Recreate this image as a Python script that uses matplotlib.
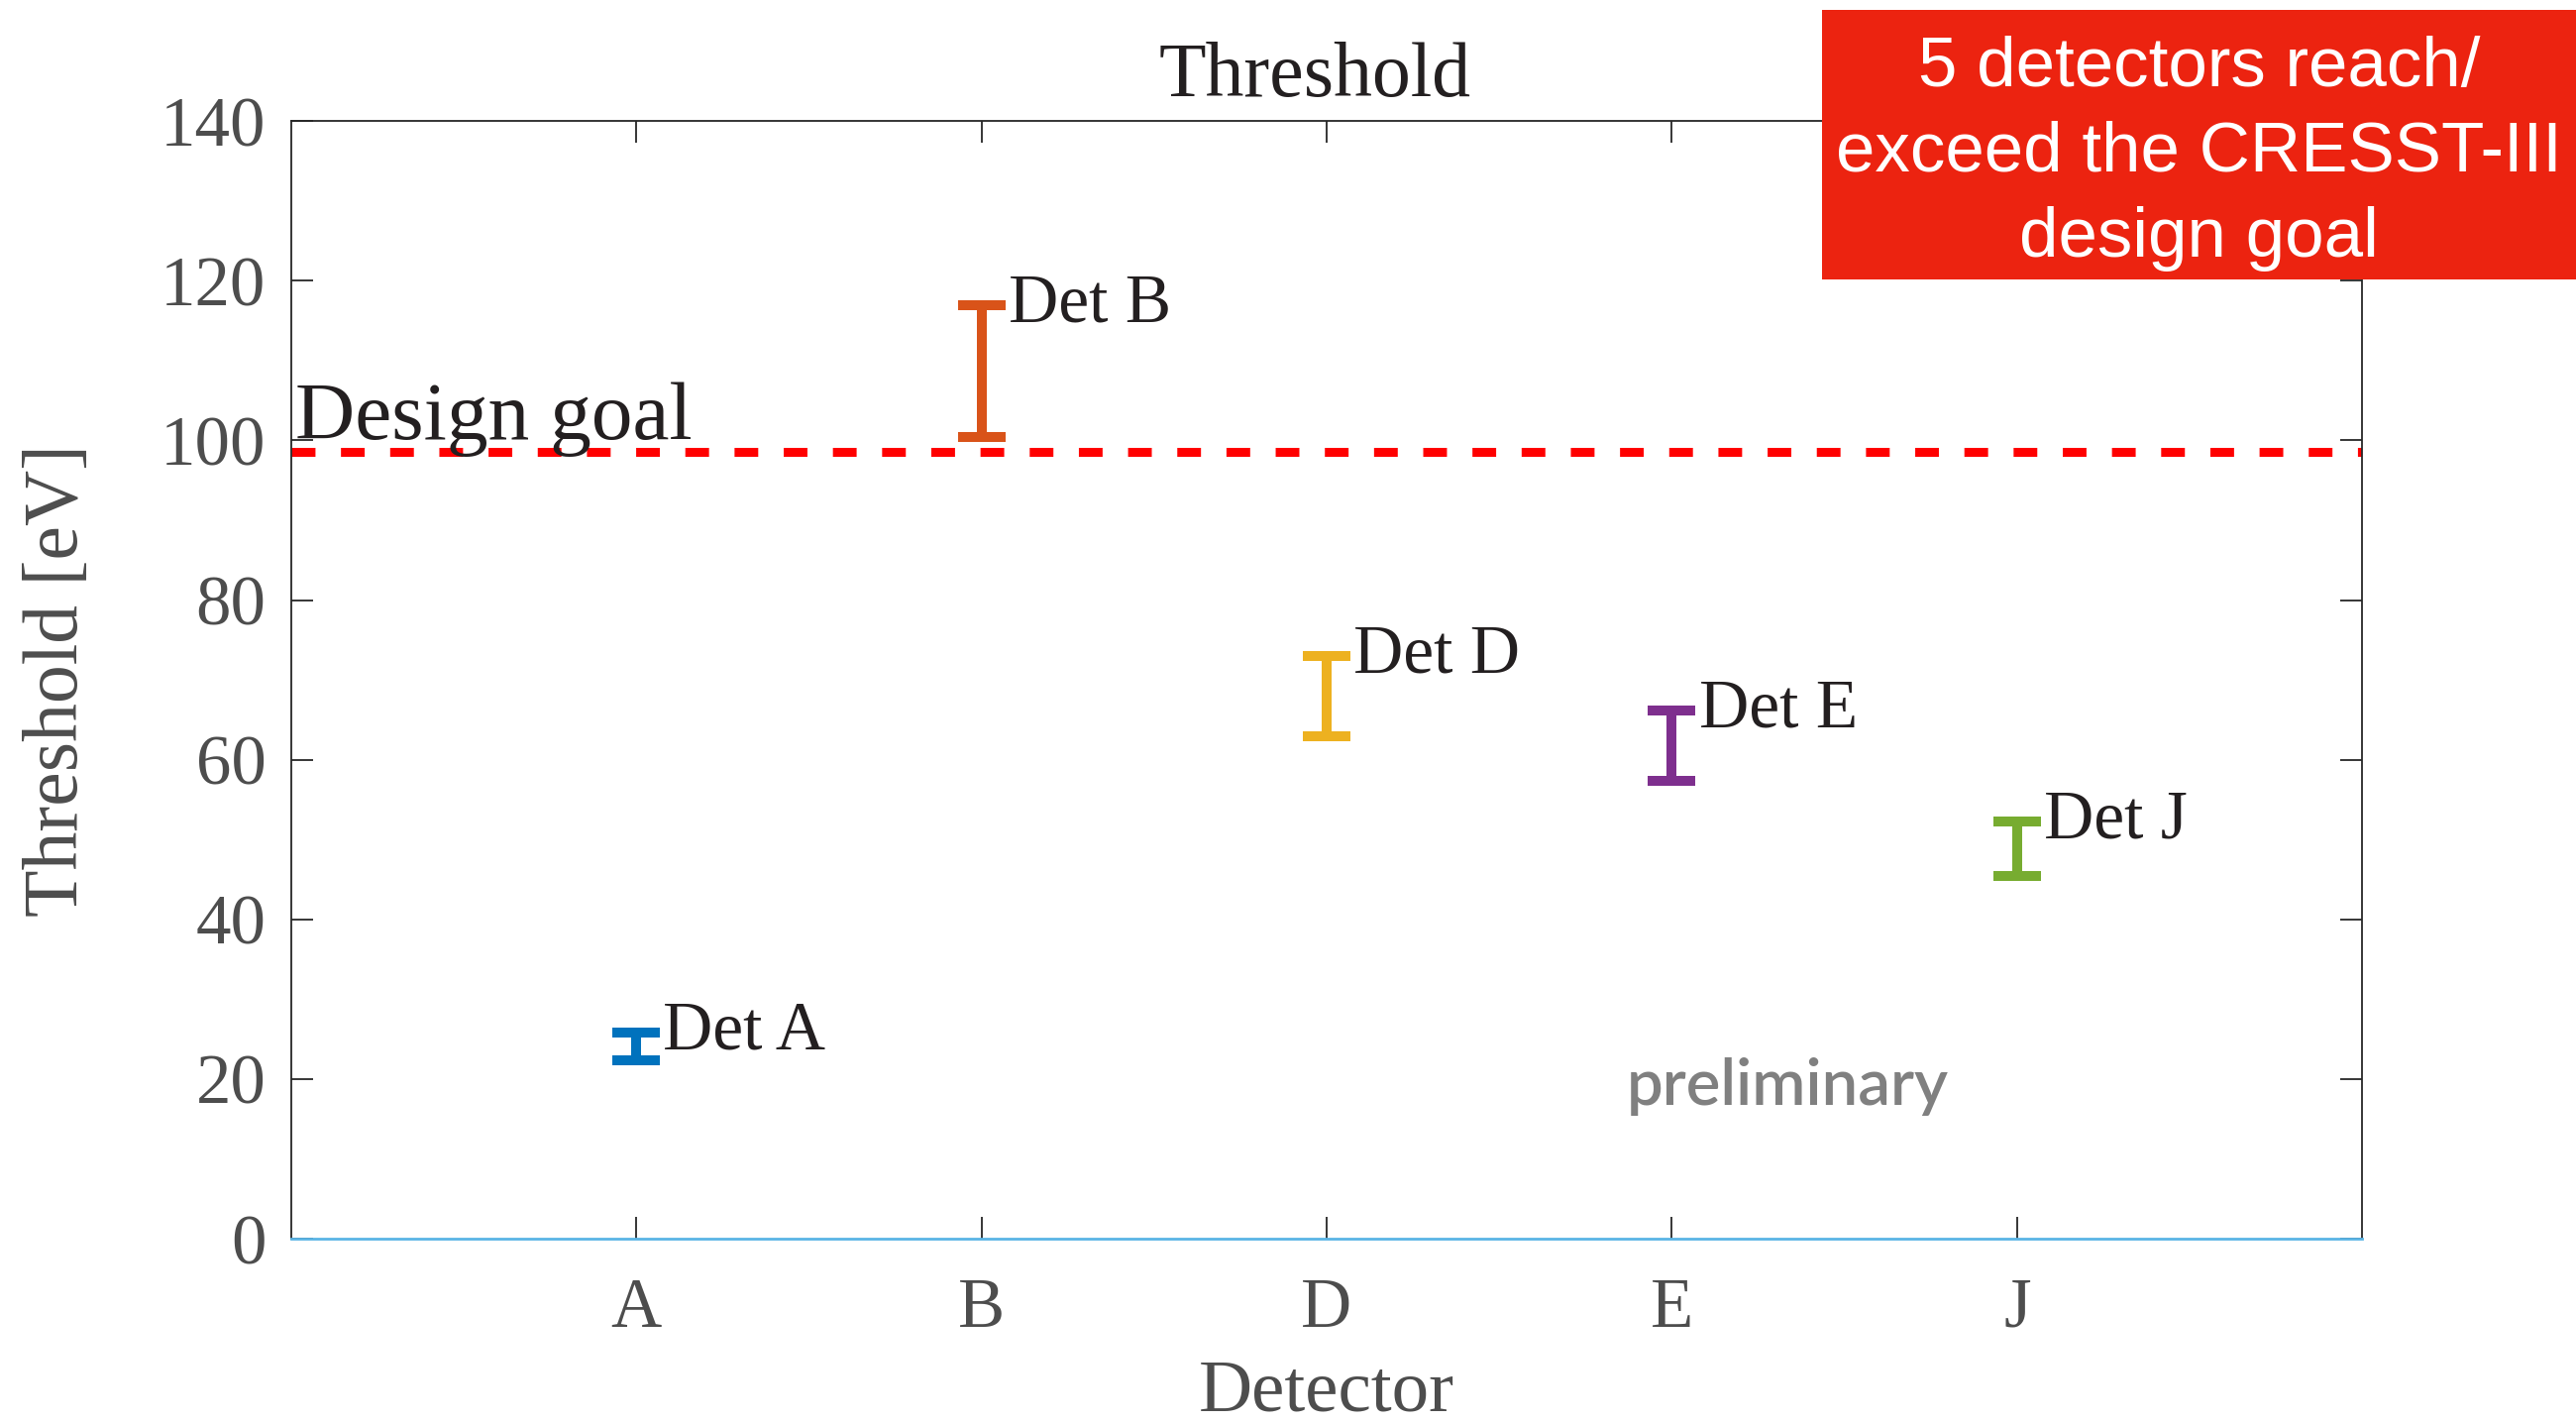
import matplotlib
matplotlib.use("Agg")
import matplotlib.pyplot as plt
from matplotlib.patches import Rectangle

# ---------------- data -----------------
detectors = ["A", "B", "D", "E", "J"]
thr_low = [22.3, 100.4, 62.9, 57.3, 45.4]     # eV, lower end of bar
thr_high = [25.8, 116.9, 73.0, 66.2, 52.3]    # eV, upper end of bar
bar_colors = ["#0072BD", "#D95319", "#EDB120", "#7E2F8E", "#77AC30"]
design_goal = 98.5
y_ticks = [0, 20, 40, 60, 80, 100, 120, 140]

SERIF = ["Liberation Serif", "DejaVu Serif"]
GRAY = "#4d4d4d"

fig = plt.figure(figsize=(26, 14.35), dpi=100)
ax = fig.add_axes([0.1129, 0.1289, 0.8042, 0.786])

x = list(range(1, len(detectors) + 1))
for xi, lo, hi, c, name in zip(x, thr_low, thr_high, bar_colors, detectors):
    mid = (lo + hi) / 2
    err = (hi - lo) / 2
    ax.errorbar([xi], [mid], yerr=[[err], [err]], fmt="none", ecolor=c,
                elinewidth=7.2, capsize=17, capthick=7.2, zorder=3)
    ax.text(xi + 0.078, hi, "Det " + name, family=SERIF, fontsize=50,
            color="#231f20", ha="left", va="center", zorder=4)

# design goal line
ax.axhline(design_goal, color="#ff0000", lw=6.5, dashes=(2.65, 2.85), zorder=2)
ax.text(0.012, 100.2, "Design goal", family=SERIF, fontsize=60,
        color="#231f20", ha="left", va="baseline")

ax.text(3.87, 16.7, "preliminary", family=["Lato", "DejaVu Sans"], fontsize=47,
        fontweight="semibold", color="#808080", ha="left", va="baseline")

# axes styling
ax.set_xlim(0, 6)
ax.set_ylim(0, 140)
ax.set_xticks(x)
ax.set_xticklabels(detectors)
ax.set_yticks(y_ticks)
ax.tick_params(direction="in", top=True, right=True, length=16, width=1.3,
               color="#262626", labelsize=51, labelcolor=GRAY)
ax.tick_params(axis="x", pad=28)
ax.tick_params(axis="y", pad=18)
for lab in ax.get_xticklabels() + ax.get_yticklabels():
    lab.set_family(SERIF)
for side in ["left", "top", "right"]:
    ax.spines[side].set_color("#262626")
    ax.spines[side].set_linewidth(1.3)
ax.spines["bottom"].set_color("#5ab4e5")
ax.spines["bottom"].set_linewidth(2)

ax.set_title("Threshold", family=SERIF, fontsize=56, color="#231f20", pad=18, x=0.4945)
ax.set_xlabel("Detector", family=SERIF, fontsize=54, color=GRAY, va="baseline")
ax.xaxis.set_label_coords(0.5, -0.154)
ax.set_ylabel("Threshold [eV]", family=SERIF, fontsize=56, color=GRAY, va="center")
ax.yaxis.set_label_coords(-0.112, 0.5)

# red note box in the corner
fig.add_artist(Rectangle((0.7073, 0.8035), 0.2927, 0.1895,
                         transform=fig.transFigure, facecolor="#ec2310",
                         edgecolor="none", zorder=5))
fig.text(0.8536, 0.892, "5 detectors reach/\nexceed the CRESST-III\ndesign goal",
         family=["Liberation Sans", "DejaVu Sans"], fontsize=51, color="white",
         ha="center", va="center", linespacing=1.4, zorder=6)

fig.savefig("out.png", dpi=100)
